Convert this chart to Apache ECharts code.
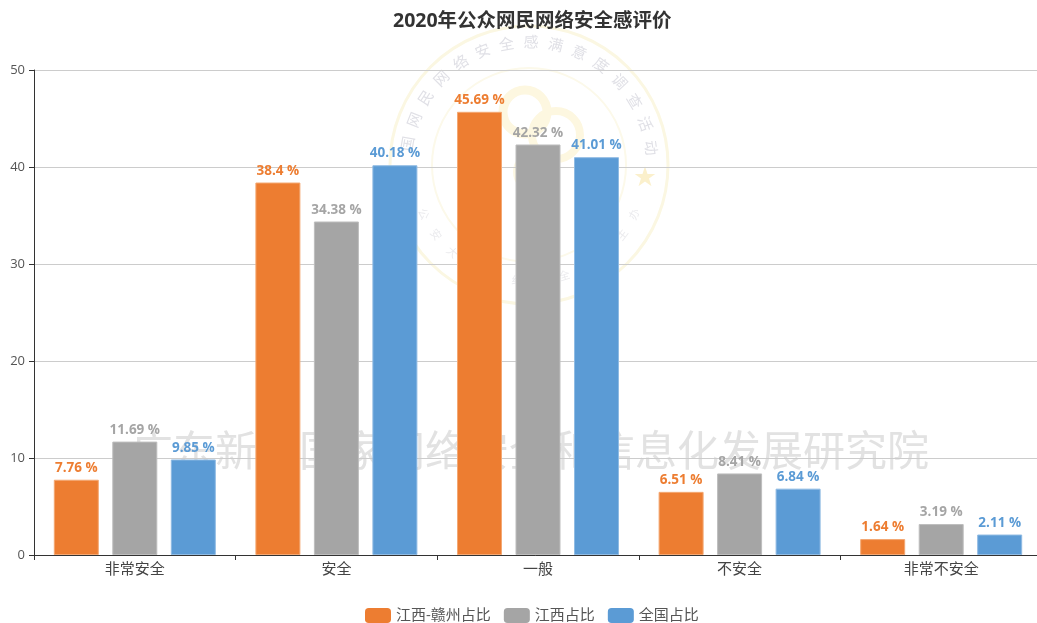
<!DOCTYPE html>
<html><head><meta charset="utf-8">
<style>html,body{margin:0;padding:0;background:#fff}#c{width:1037px;height:623px}</style>
<script src="https://cdn.jsdelivr.net/npm/echarts@6/dist/echarts.min.js"></script>
</head><body><div id="c"></div>
<script>
const chartTitle = '2020年公众网民网络安全感评价';
const categories = ['非常安全', '安全', '一般', '不安全', '非常不安全'];
const ganzhou = [7.76, 38.4, 45.69, 6.51, 1.64];
const jiangxi = [11.69, 34.38, 42.32, 8.41, 3.19];
const national = [9.85, 40.18, 41.01, 6.84, 2.11];
const seriesNames = ['江西-赣州占比', '江西占比', '全国占比'];
const seriesColors = ['#ed7d31', '#a5a5a5', '#5b9bd5'];
const borderColors = ['#f4a873', '#bdbdbd', '#8fbbe3'];
const wmText = '广东新兴国家网络安全和信息化发展研究院';
const sealTop = '国网民网络安全感满意度调查活动';
const sealBottom = '公安大学网络安全学院主办';
const font = '"Open Sans","Noto Sans CJK SC",sans-serif';

const chart = echarts.init(document.getElementById('c'), null, {renderer: 'canvas'});
const cx = 529, cy = 165, gfx = [];
const ring = (x, y, r, color, w) => gfx.push({type: 'circle', z: -1, silent: true, shape: {cx: x, cy: y, r},
  style: {fill: 'none', stroke: color, lineWidth: w}});
ring(cx, cy, 139, '#fbf7e2', 3);
ring(cx, cy, 97, '#fcf9ea', 2);
ring(525, 112, 22, '#fdf7e0', 9);
ring(556, 135, 24, '#fdf7e0', 8);
ring(535, 172, 18, '#fdf8e3', 8);
gfx.push({type: 'text', z: -1, silent: true, x: 645, y: 178, style: {text: '★', fill: '#fbf0cc', font: '22px ' + font, align: 'center', verticalAlign: 'middle'}});
[...sealTop].forEach((ch, i) => {
  const a = (170 - i * 162 / (sealTop.length - 1)) * Math.PI / 180;
  gfx.push({type: 'text', z: -1, silent: true, x: cx + 122 * Math.cos(a), y: cy - 122 * Math.sin(a), rotation: a - Math.PI / 2,
    style: {text: ch, fill: '#e0e0e6', font: '15px ' + font, align: 'center', verticalAlign: 'middle'}});
});
[...sealBottom].forEach((ch, i) => {
  const a = (-155 + i * 130 / (sealBottom.length - 1)) * Math.PI / 180;
  gfx.push({type: 'text', z: -1, silent: true, x: cx + 117 * Math.cos(a), y: cy - 117 * Math.sin(a), rotation: a + Math.PI / 2,
    style: {text: ch, fill: '#ebebee', font: '11px ' + font, align: 'center', verticalAlign: 'middle'}});
});
gfx.push({type: 'text', z: -1, silent: true, x: 530, y: 454, style: {text: wmText, fill: '#e2e2e2', font: '42px ' + font, align: 'center', verticalAlign: 'middle'}});

const makeSeries = (name, data, i) => ({
  name, type: 'bar', data, barWidth: 45, barGap: '30%',
  itemStyle: {color: seriesColors[i], borderColor: borderColors[i], borderWidth: 1},
  label: {show: true, position: 'top', distance: 5, formatter: '{c} %', color: seriesColors[i], fontWeight: 'bold', fontSize: 13.5, fontFamily: font}
});

chart.setOption({
  animation: false,
  textStyle: {fontFamily: font},
  title: {text: chartTitle, left: 388, top: 7, textStyle: {fontSize: 19.5, fontWeight: 'bold', color: '#333', fontFamily: font}},
  legend: {data: seriesNames, top: 603, left: 360, itemWidth: 26, itemHeight: 15, itemGap: 13,
    textStyle: {fontSize: 15, color: '#555', fontFamily: font},
    itemStyle: {borderWidth: 0}},
  grid: {left: 34, width: 1008, top: 70, bottom: 68, containLabel: false, outerBoundsMode: 'none'},
  xAxis: {type: 'category', data: categories,
    axisLine: {lineStyle: {color: '#333'}}, axisTick: {show: true, alignWithLabel: false, length: 5, lineStyle: {color: '#333'}},
    axisLabel: {fontSize: 15, color: '#444', margin: 7, fontFamily: font}},
  yAxis: {type: 'value', min: 0, max: 50, interval: 10,
    axisLine: {show: true, lineStyle: {color: '#333'}}, axisTick: {show: true, length: 5, lineStyle: {color: '#333'}},
    axisLabel: {fontSize: 13, color: '#555', margin: 9, fontFamily: font},
    splitLine: {lineStyle: {color: '#ccc'}}},
  graphic: gfx,
  series: [makeSeries(seriesNames[0], ganzhou, 0), makeSeries(seriesNames[1], jiangxi, 1), makeSeries(seriesNames[2], national, 2)]
});
</script></body></html>
